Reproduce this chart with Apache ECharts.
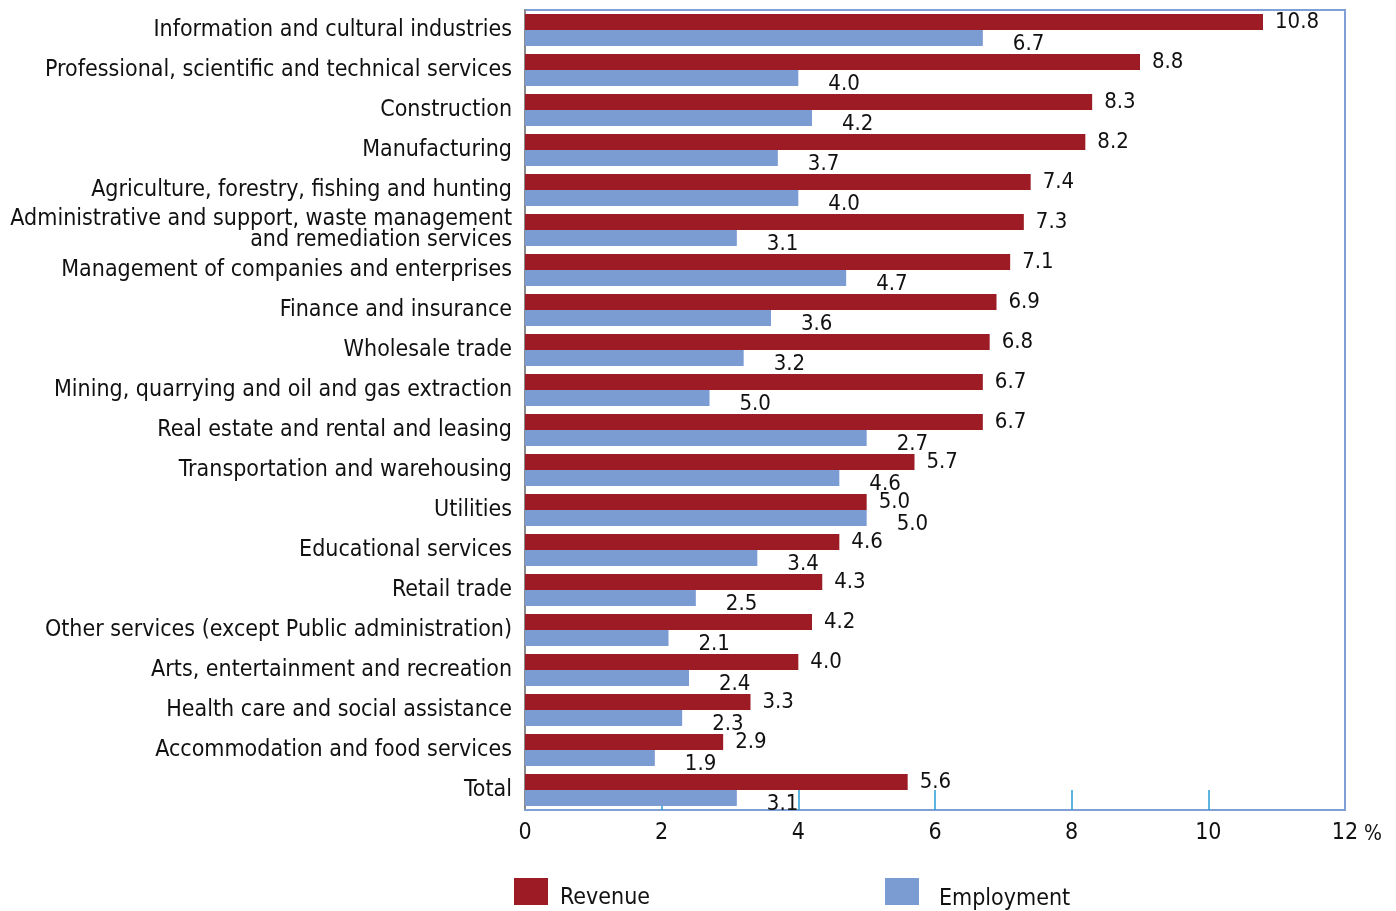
<!DOCTYPE html>
<html>
<head>
<meta charset="utf-8">
<title>Revenue and employment growth by industry</title>
<script src="https://cdn.jsdelivr.net/npm/echarts@6/dist/echarts.min.js"></script>
<style>
  html, body { margin: 0; padding: 0; background: #fff; }
  #chart { width: 1396px; height: 911px; }
</style>
</head>
<body>
<div id="chart"></div>
<script>
// categories, top to bottom
var industries = [
  'Information and cultural industries',
  'Professional, scientific and technical services',
  'Construction',
  'Manufacturing',
  'Agriculture, forestry, fishing and hunting',
  'Administrative and support, waste management\nand remediation services',
  'Management of companies and enterprises',
  'Finance and insurance',
  'Wholesale trade',
  'Mining, quarrying and oil and gas extraction',
  'Real estate and rental and leasing',
  'Transportation and warehousing',
  'Utilities',
  'Educational services',
  'Retail trade',
  'Other services (except Public administration)',
  'Arts, entertainment and recreation',
  'Health care and social assistance',
  'Accommodation and food services',
  'Total'
]

// bar lengths as drawn
var revenue = [10.8, 9.0, 8.3, 8.2, 7.4, 7.3, 7.1, 6.9, 6.8, 6.7, 6.7, 5.7, 5.0, 4.6, 4.35, 4.2, 4.0, 3.3, 2.9, 5.6]
var employment = [6.7, 4.0, 4.2, 3.7, 4.0, 3.1, 4.7, 3.6, 3.2, 2.7, 5.0, 4.6, 5.0, 3.4, 2.5, 2.1, 2.4, 2.3, 1.9, 3.1]

// value labels as printed (some differ from the bars in the original)
var revenueLabels = ['10.8', '8.8', '8.3', '8.2', '7.4', '7.3', '7.1', '6.9', '6.8', '6.7', '6.7', '5.7', '5.0', '4.6', '4.3', '4.2', '4.0', '3.3', '2.9', '5.6']
var employmentLabels = ['6.7', '4.0', '4.2', '3.7', '4.0', '3.1', '4.7', '3.6', '3.2', '5.0', '2.7', '4.6', '5.0', '3.4', '2.5', '2.1', '2.4', '2.3', '1.9', '3.1']

var xTicks = [2, 4, 6, 8, 10]

var fontFamily = '"DejaVu Sans Condensed", "DejaVu Sans", sans-serif'
var textColor = '#111'

var chart = echarts.init(document.getElementById('chart'))

var option = {
  backgroundColor: '#fff',
  animation: false,
  textStyle: {
    fontFamily: fontFamily,
    color: textColor
  },
  grid: {
    left: 525,
    right: 51,
    top: 10,
    bottom: 101,
    show: true,
    borderColor: '#7f9fd6',
    borderWidth: 2,
    backgroundColor: 'transparent'
  },
  legend: [{
    data: ['Revenue'],
    left: 509,
    top: 873,
    itemWidth: 34,
    itemHeight: 27,
    icon: 'rect',
    formatter: '{t|{name}}',
    textStyle: {
      rich: {
        t: { fontFamily: fontFamily, fontSize: 23, color: textColor, padding: [14, 0, 0, 7] }
      }
    }
  }, {
    data: ['Employment'],
    left: 880,
    top: 873,
    itemWidth: 34,
    itemHeight: 27,
    icon: 'rect',
    formatter: '{t|{name}}',
    textStyle: {
      rich: {
        t: { fontFamily: fontFamily, fontSize: 23, color: textColor, padding: [16, 0, 0, 15] }
      }
    }
  }],
  xAxis: {
    type: 'value',
    min: 0,
    max: 12,
    interval: 2,
    name: '%',
    nameLocation: 'end',
    nameGap: 12,
    nameTextStyle: {
      fontFamily: fontFamily,
      fontSize: 21,
      color: textColor,
      verticalAlign: 'top',
      padding: [14, 0, 0, 0]
    },
    axisLine: {
      show: true,
      lineStyle: { color: '#7f9fd6', width: 2 }
    },
    axisTick: {
      show: true,
      inside: true,
      length: 20,
      customValues: xTicks,
      lineStyle: { color: '#2a9fd6', width: 1.5 }
    },
    axisLabel: {
      fontFamily: fontFamily,
      fontSize: 23,
      color: textColor,
      margin: 12
    },
    splitLine: { show: false }
  },
  yAxis: {
    type: 'category',
    inverse: true,
    data: industries,
    axisLine: {
      show: true,
      lineStyle: { color: '#8a8a8a', width: 2 }
    },
    axisTick: { show: false },
    axisLabel: {
      fontFamily: fontFamily,
      fontSize: 23,
      color: textColor,
      margin: 13,
      lineHeight: 21,
      align: 'right'
    }
  },
  series: [{
    name: 'Revenue',
    type: 'bar',
    data: revenue,
    barGap: '0%',
    barCategoryGap: '20%',
    itemStyle: { color: '#9c1b24' },
    label: {
      show: true,
      position: 'right',
      distance: 12,
      offset: [0, 0],
      fontFamily: fontFamily,
      fontSize: 22,
      color: textColor,
      formatter: function (p) { return revenueLabels[p.dataIndex] }
    }
  }, {
    name: 'Employment',
    type: 'bar',
    data: employment,
    itemStyle: { color: '#7b9bd3' },
    label: {
      show: true,
      position: 'right',
      distance: 30,
      offset: [0, 6],
      fontFamily: fontFamily,
      fontSize: 22,
      color: textColor,
      formatter: function (p) { return employmentLabels[p.dataIndex] }
    }
  }]
}

chart.setOption(option)
</script>
</body>
</html>
